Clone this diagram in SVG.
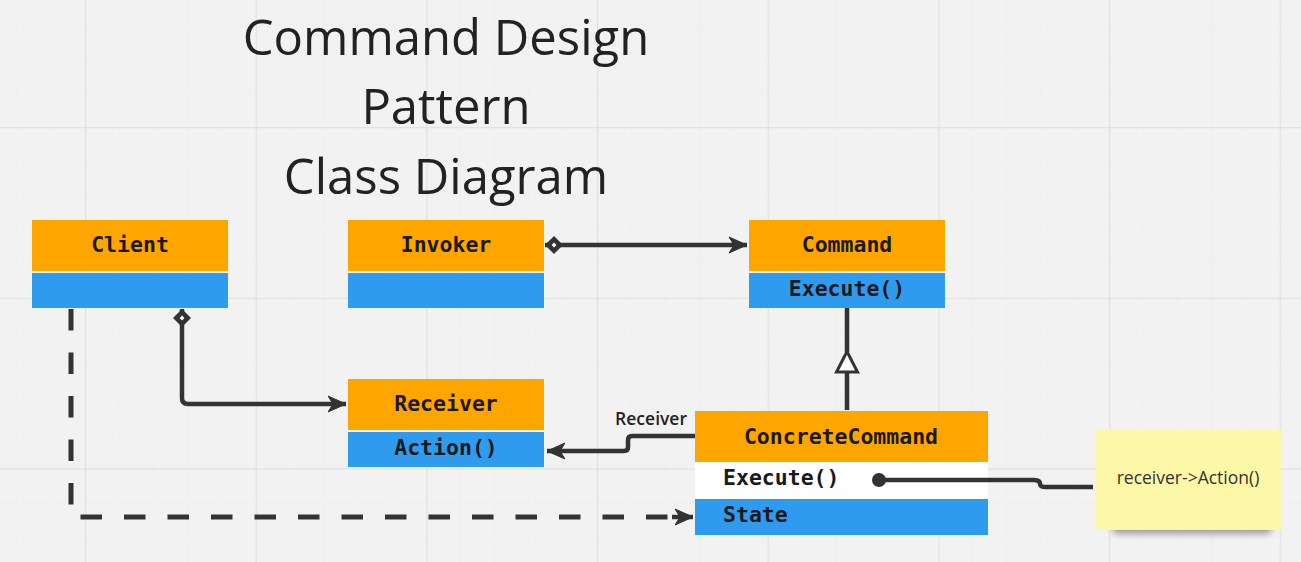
<svg xmlns="http://www.w3.org/2000/svg" width="1301" height="562" viewBox="0 0 1301 562">
<style>
.hdr{fill:#ffa500}
.body{fill:#2f9bef}
.row{fill:#ffffff}
.nt{font-family:"DejaVu Sans Mono","Liberation Mono",monospace;font-weight:bold;font-size:21.5px;fill:#1a1a1a}
.title{font-family:"Open Sans","Noto Sans",sans-serif;font-size:49px;fill:#222;text-anchor:middle}
.conn{fill:none;stroke:#333;stroke-width:4.5;stroke-linejoin:round}
.dash{stroke-dasharray:21.5 22;stroke-width:5}
.lbl{font-family:"Open Sans","Noto Sans",sans-serif;font-weight:600;font-size:17.5px;fill:#222}
.note{font-family:"Open Sans","Noto Sans",sans-serif;font-size:17.5px;fill:#333;text-anchor:middle}
</style>
<defs>
<pattern id="grid" patternUnits="userSpaceOnUse" x="85" y="127" width="170.67" height="170.67">
<path d="M34.13 0V170.67M68.27 0V170.67M102.4 0V170.67M136.53 0V170.67M0 34.13H170.67M0 68.27H170.67M0 102.4H170.67M0 136.53H170.67" stroke="#efefef" stroke-width="1" fill="none"/>
<path d="M0.5 0V170.67M0 0.5H170.67" stroke="#e2e2e2" stroke-width="1.5" fill="none"/>
</pattern>
<marker id="arrow" markerUnits="userSpaceOnUse" markerWidth="20" markerHeight="18" refX="18" refY="8" orient="auto" viewBox="0 0 20 16">
<path d="M0,0 L18,8 L0,16 L5,8 Z" fill="#333" stroke="#333" stroke-width="1" stroke-linejoin="round"/>
</marker>
<marker id="diamond" markerUnits="userSpaceOnUse" markerWidth="19" markerHeight="19" refX="0" refY="9" orient="auto" viewBox="0 0 19 18">
<path d="M0,9 L9,0 L18,9 L9,18 Z" fill="#333"/>
<rect x="7.3" y="7.3" width="3.4" height="3.4" fill="#fff" transform="rotate(45 9 9)"/>
</marker>
<filter id="shadow" x="-20%" y="-50%" width="140%" height="200%">
<feGaussianBlur stdDeviation="3"/>
</filter>
</defs>
<rect width="1301" height="562" fill="#f2f2f2"/>
<rect width="1301" height="562" fill="url(#grid)"/>

<g id="title">
<text class="title" x="446" y="55">Command Design</text>
<text class="title" x="446" y="124">Pattern</text>
<text class="title" x="446" y="194">Class Diagram</text>
</g>

<g id="client">
<rect class="hdr" x="32" y="220" width="196" height="51"/>
<rect class="body" x="32" y="273" width="196" height="35"/>
<text class="nt" x="130" y="252" text-anchor="middle">Client</text>
</g>

<g id="invoker">
<rect class="hdr" x="348" y="220" width="196" height="51"/>
<rect class="body" x="348" y="273" width="196" height="35"/>
<text class="nt" x="446" y="252" text-anchor="middle">Invoker</text>
</g>

<g id="command">
<rect class="hdr" x="749" y="220" width="196" height="51"/>
<rect class="body" x="749" y="273" width="196" height="35"/>
<text class="nt" x="847" y="252" text-anchor="middle">Command</text>
<text class="nt" x="847" y="296" text-anchor="middle">Execute()</text>
</g>

<g id="receiver">
<rect class="hdr" x="348" y="379" width="196" height="51"/>
<rect class="body" x="348" y="432" width="196" height="35"/>
<text class="nt" x="446" y="411" text-anchor="middle">Receiver</text>
<text class="nt" x="446" y="455" text-anchor="middle">Action()</text>
</g>

<g id="concretecommand">
<rect class="hdr" x="695" y="411" width="293" height="51"/>
<rect class="row" x="695" y="462" width="293" height="37"/>
<rect class="body" x="695" y="499" width="293" height="36"/>
<text class="nt" x="841" y="444" text-anchor="middle">ConcreteCommand</text>
<text class="nt" x="723" y="485">Execute()</text>
<text class="nt" x="723" y="522">State</text>
</g>

<g id="note">
<rect x="1112" y="520" width="160" height="14" rx="6" fill="#000" opacity="0.35" filter="url(#shadow)"/>
<rect x="1096" y="430" width="185" height="100" fill="#fdf7a8"/>
<text class="note" x="1188" y="484">receiver-&gt;Action()</text>
</g>

<g id="connectors">
<path class="conn" d="M545 245 L747 245" marker-start="url(#diamond)" marker-end="url(#arrow)"/>
<path class="conn" d="M182 309 L182 398 Q182 404 188 404 L346 404" marker-start="url(#diamond)" marker-end="url(#arrow)"/>
<path class="conn dash" d="M71 309 L71 517 L680 517"/>
<path class="conn" d="M672 517 L693 517" stroke="none" marker-end="url(#arrow)"/>
<path class="conn" d="M847 308 L847 352 M847 372 L847 410"/>
<polygon points="847,351.5 836.5,372 857.5,372" fill="#fff" stroke="#333" stroke-width="3" stroke-linejoin="miter"/>
<path class="conn" d="M695 436 L632 436 Q628 436 628 440 L628 447 Q628 451 624 451 L547 451" marker-end="url(#arrow)"/>
<text class="lbl" x="687" y="425" text-anchor="end">Receiver</text>
<path class="conn" d="M879 480 L1034 480 Q1040 480 1040 484 Q1040 487 1046 487 L1093 487"/>
<circle cx="879" cy="480" r="7" fill="#333"/>
</g>
</svg>
